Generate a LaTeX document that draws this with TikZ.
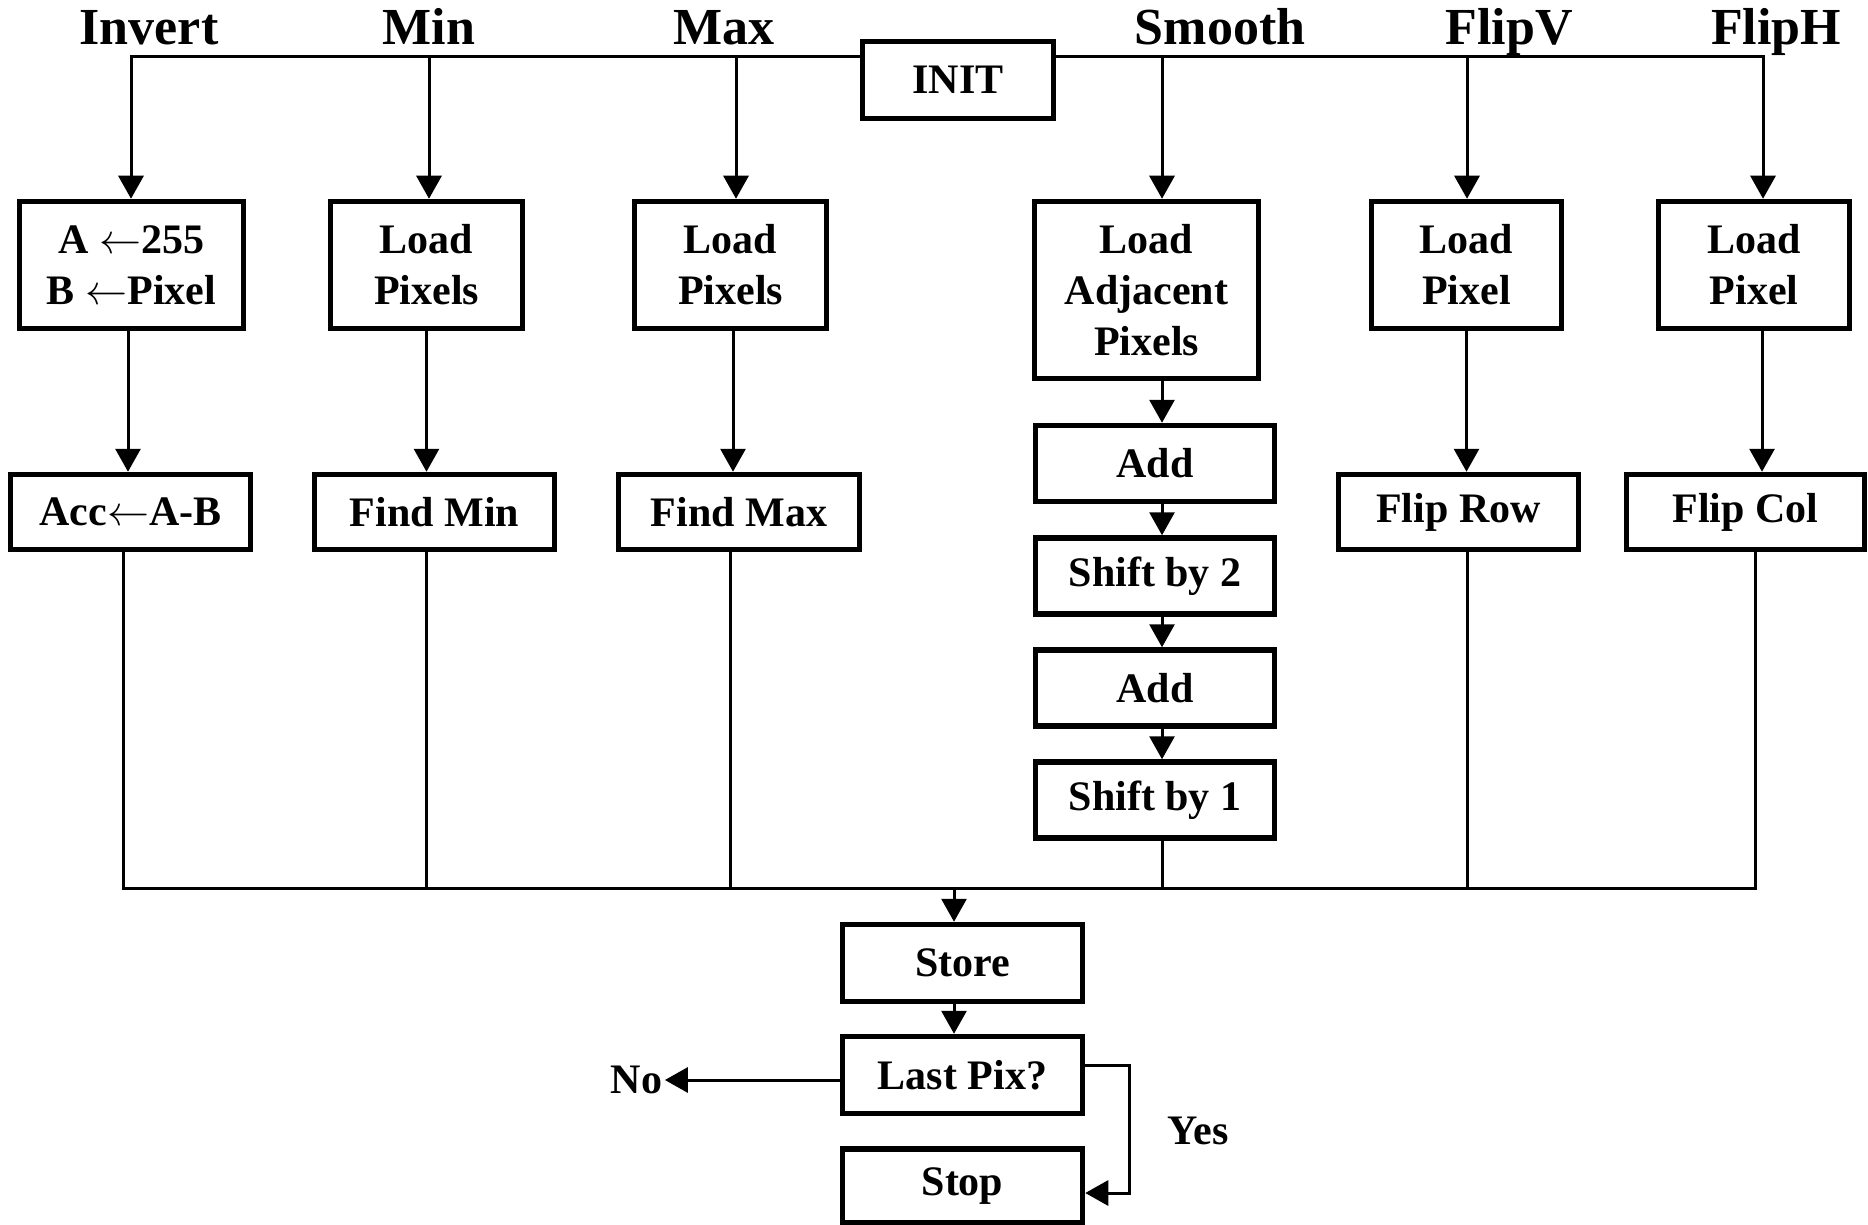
\RequirePackage{fix-cm}
\documentclass[tikz,border=0pt]{standalone}
\usepackage{fontspec}
\setmainfont{Liberation Serif}
\usetikzlibrary{arrows.meta}
\newcommand{\lar}{$\leftarrow$}
\begin{document}
\begin{tikzpicture}[x=1pt,y=-1pt,
  box/.style={draw, line width=5.5pt, inner sep=0pt, align=center,
    font=\bfseries\fontsize{42}{51}\selectfont},
  ttl/.style={font=\bfseries\fontsize{52}{60}\selectfont, anchor=base, inner sep=0pt},
  lbl/.style={font=\bfseries\fontsize{42}{51}\selectfont, inner sep=2.5pt},
  conn/.style={line width=3pt},
  arr/.style={line width=3pt, -{Triangle[length=23pt,width=25pt]}},
]
\useasboundingbox (0,0) rectangle (1868,1225);

% titles
\node[ttl] (tInvert) at (149,45) {Invert};
\node[ttl] (tMin) at (429,45) {Min};
\node[ttl] (tMax) at (724,45) {Max};
\node[ttl] (tSmooth) at (1220,45) {Smooth};
\node[ttl] (tFlipV) at (1509,45) {FlipV};
\node[ttl] (tFlipH) at (1776,45) {FlipH};

% INIT
\node[box, minimum width=191pt, minimum height=77pt] (INIT) at (958,80) {INIT};

% row 1
\node[box, minimum width=224pt, minimum height=127pt] (Inv) at (131.5,265) {A \lar255\\B \lar Pixel};
\node[box, minimum width=192pt, minimum height=127pt] (Min) at (426.5,265) {Load\\Pixels};
\node[box, minimum width=192pt, minimum height=127pt] (Max) at (730.5,265) {Load\\Pixels};
\node[box, minimum width=224pt, minimum height=177pt] (Smo) at (1146.5,290) {Load\\Adjacent\\Pixels};
\node[box, minimum width=190pt, minimum height=127pt] (FV) at (1466.5,265) {Load\\Pixel};
\node[box, minimum width=191pt, minimum height=127pt] (FH) at (1754,265) {Load\\Pixel};

% row 2
\node[box, minimum width=240pt, minimum height=75pt] (Acc) at (130.5,512) {Acc\lar A-B};
\node[box, minimum width=240pt, minimum height=75pt] (FMin) at (434.5,512) {Find Min};
\node[box, minimum width=241pt, minimum height=75pt] (FMax) at (739,512) {Find Max};
\node[box, minimum width=240pt, minimum height=75pt] (FRow) at (1458.5,512) {Flip Row};
\node[box, minimum width=238pt, minimum height=75pt] (FCol) at (1745.5,512) {Flip Col};

% smooth chain
\node[box, minimum width=239pt, minimum height=76pt] (Add1) at (1155,463.5) {Add};
\node[box, minimum width=239pt, minimum height=76pt] (Sh2) at (1155,576) {Shift by 2};
\node[box, minimum width=239pt, minimum height=76pt] (Add2) at (1155,688) {Add};
\node[box, minimum width=239pt, minimum height=76pt] (Sh1) at (1155,800) {Shift by 1};

% bottom
\node[box, minimum width=240pt, minimum height=77pt] (Store) at (962.5,963) {Store};
\node[box, minimum width=240pt, minimum height=77pt] (Last) at (962.5,1075) {Last Pix?};
\node[box, minimum width=240pt, minimum height=74pt] (Stop) at (962.5,1186) {Stop};
\node[lbl] (No) at (636.5,1080) {No};
\node[ttl, font=\bfseries\fontsize{42}{51}\selectfont] (Yes) at (1198,1144) {Yes};

% top bus coordinates
\coordinate (cInv) at (131,57);
\coordinate (cMin) at (429,57);
\coordinate (cMax) at (736,57);
\coordinate (cSmo) at (1162,57);
\coordinate (cFV) at (1467,57);
\coordinate (cFH) at (1763,57);
\coordinate (busR) at (1755,888);

% top bus and arrows
\draw[arr] (INIT.west |- cInv) -- (cInv) -- (cInv |- Inv.north);
\draw[arr] (cMin) -- (cMin |- Min.north);
\draw[arr] (cMax) -- (cMax |- Max.north);
\draw[arr] (INIT.east |- cFH) -- (cFH) -- (cFH |- FH.north);
\draw[arr] (cSmo) -- (cSmo |- Smo.north);
\draw[arr] (cFV) -- (cFV |- FV.north);

% row1 -> row2
\draw[arr] ([xshift=-3.5pt]Inv.south) -- ([xshift=-3.5pt]Inv.south |- Acc.north);
\draw[arr] (Min.south) -- (Min.south |- FMin.north);
\draw[arr] ([xshift=2.5pt]Max.south) -- ([xshift=2.5pt]Max.south |- FMax.north);
\draw[arr] (FV.south) -- (FV.south |- FRow.north);
\draw[arr] ([xshift=8pt]FH.south) -- ([xshift=8pt]FH.south |- FCol.north);

% smooth chain
\draw[arr] ([xshift=7pt]Add1.north |- Smo.south) -- ([xshift=7pt]Add1.north);
\draw[arr] ([xshift=7pt]Add1.south) -- ([xshift=7pt]Sh2.north);
\draw[arr] ([xshift=7pt]Sh2.south) -- ([xshift=7pt]Add2.north);
\draw[arr] ([xshift=7pt]Add2.south) -- ([xshift=7pt]Sh1.north);

% bottom bus
\draw[conn] ([xshift=-7.5pt]Acc.south) |- (busR) -- ([xshift=9.5pt]FCol.south);
\draw[conn] ([xshift=-8.5pt]FMin.south) -- ([xshift=-8.5pt]FMin.south |- busR);
\draw[conn] ([xshift=-9pt]FMax.south) -- ([xshift=-9pt]FMax.south |- busR);
\draw[conn] ([xshift=7pt]Sh1.south) -- ([xshift=7pt]Sh1.south |- busR);
\draw[conn] ([xshift=8.5pt]FRow.south) -- ([xshift=8.5pt]FRow.south |- busR);

% to store and decision
\draw[arr] ([xshift=-8.5pt]Store.north |- busR) -- ([xshift=-8.5pt]Store.north);
\draw[arr] ([xshift=-8.5pt]Store.south) -- ([xshift=-8.5pt]Last.north);
\draw[arr] ([yshift=-5pt]Last.west) -- (No.east);
\draw[arr] ([yshift=10pt]Last.east) -- ++(44,0) |- ([yshift=-7pt]Stop.east);
\end{tikzpicture}
\end{document}
